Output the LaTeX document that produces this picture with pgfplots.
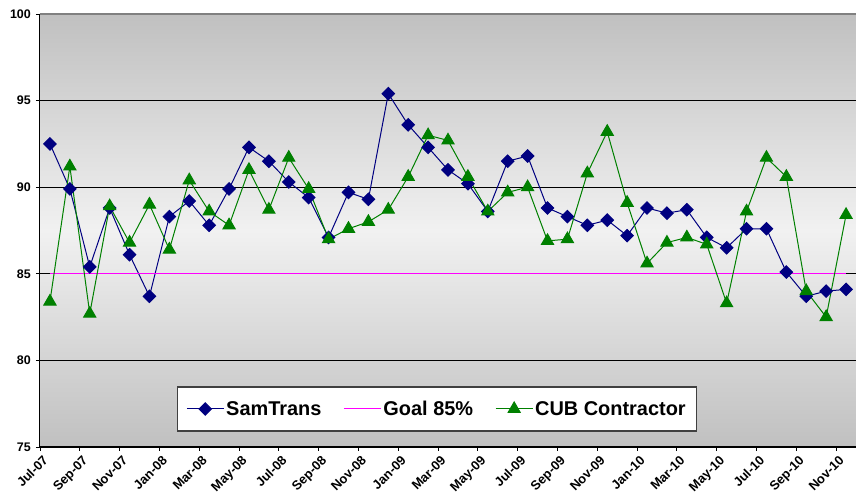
\documentclass[border=0pt]{standalone}
\usepackage{pgfplots}
\pgfplotsset{compat=1.18}
\usepackage{fontspec}
\setmainfont{Liberation Sans}
\definecolor{navyS}{RGB}{0,0,128}
\definecolor{greenC}{RGB}{0,128,0}
\definecolor{goalC}{RGB}{255,0,255}
\definecolor{bgdark}{RGB}{192,192,192}
\definecolor{bglight}{RGB}{241,241,241}

\pgfplotstableread{
i sam cub
0 92.5 83.4
1 89.9 91.2
2 85.4 82.7
3 88.8 88.9
4 86.1 86.8
5 83.7 89.0
6 88.3 86.4
7 89.2 90.4
8 87.8 88.6
9 89.9 87.8
10 92.3 91.0
11 91.5 88.7
12 90.3 91.7
13 89.4 89.9
14 87.1 87.0
15 89.7 87.6
16 89.3 88.0
17 95.4 88.7
18 93.6 90.6
19 92.3 93.0
20 91.0 92.7
21 90.2 90.6
22 88.6 88.6
23 91.5 89.7
24 91.8 90.0
25 88.8 86.9
26 88.3 87.0
27 87.8 90.8
28 88.1 93.2
29 87.2 89.1
30 88.8 85.6
31 88.5 86.8
32 88.7 87.1
33 87.1 86.7
34 86.5 83.3
35 87.6 88.6
36 87.6 91.7
37 85.1 90.6
38 83.7 84.0
39 84.0 82.5
40 84.1 88.4
}\datatable

\begin{document}
\begin{tikzpicture}[x=1bp,y=1bp]
\useasboundingbox (-40,-50) rectangle (816,447);
\begin{axis}[
  at={(0,0)}, anchor=south west,
  scale only axis, width=816bp, height=433bp,
  xmin=-0.5, xmax=40.5, ymin=75, ymax=100,
  axis x line*=bottom, axis y line*=left,
  axis line style={black, line width=1bp},
  ytick={75,80,...,100},
  xtick={-0.5,1.5,...,39.5},
  xticklabels={Jul-07,Sep-07,Nov-07,Jan-08,Mar-08,May-08,Jul-08,Sep-08,Nov-08,Jan-09,Mar-09,May-09,Jul-09,Sep-09,Nov-09,Jan-10,Mar-10,May-10,Jul-10,Sep-10,Nov-10},
  /pgf/number format/assume math mode=true,
  tick align=outside,
  major tick length=4bp,
  tick style={black, line width=0.8bp},
  ymajorgrids,
  grid style={black, line width=0.8bp},
  xticklabel style={font=\bfseries\fontsize{13}{13}\selectfont, rotate=45, anchor=north east, inner sep=1bp, yshift=-3bp},
  yticklabel style={font=\bfseries\fontsize{12.5}{12.5}\selectfont, inner sep=1bp, xshift=-4bp},
  axis background/.style={shade, top color=bgdark, bottom color=bgdark, middle color=bglight},
  legend style={at={(0.4865,0.0878)}, anchor=center, legend columns=3,
    draw=black!75, line width=1.2bp, fill=white,
    font=\bfseries\fontsize{20}{22}\selectfont,
    inner xsep=9bp, inner ysep=12bp,
    /tikz/every even column/.append style={column sep=20bp}},
  legend image code/.code={\draw[mark repeat=2,mark phase=2] plot coordinates {(0bp,0bp) (18.5bp,0bp) (37bp,0bp)};},
  clip=false,
]
\addplot[navyS, line width=1bp, mark=square*, mark size=4.4bp, mark options={rotate=45, solid, fill=navyS, draw=navyS}] table[x=i, y=sam] {\datatable};
\addlegendentry{SamTrans}
\addplot[goalC, line width=1bp, mark=none] coordinates {(0,85) (40,85)};
\addlegendentry{Goal 85\%}
\addplot[greenC, line width=1bp, mark=triangle*, mark size=7bp, mark options={solid, fill=greenC, draw=greenC}] table[x=i, y=cub] {\datatable};
\addlegendentry{CUB Contractor}
\draw[gray, line width=2bp] (rel axis cs:0,1) -- (rel axis cs:1,1);
\end{axis}
\end{tikzpicture}
\end{document}
